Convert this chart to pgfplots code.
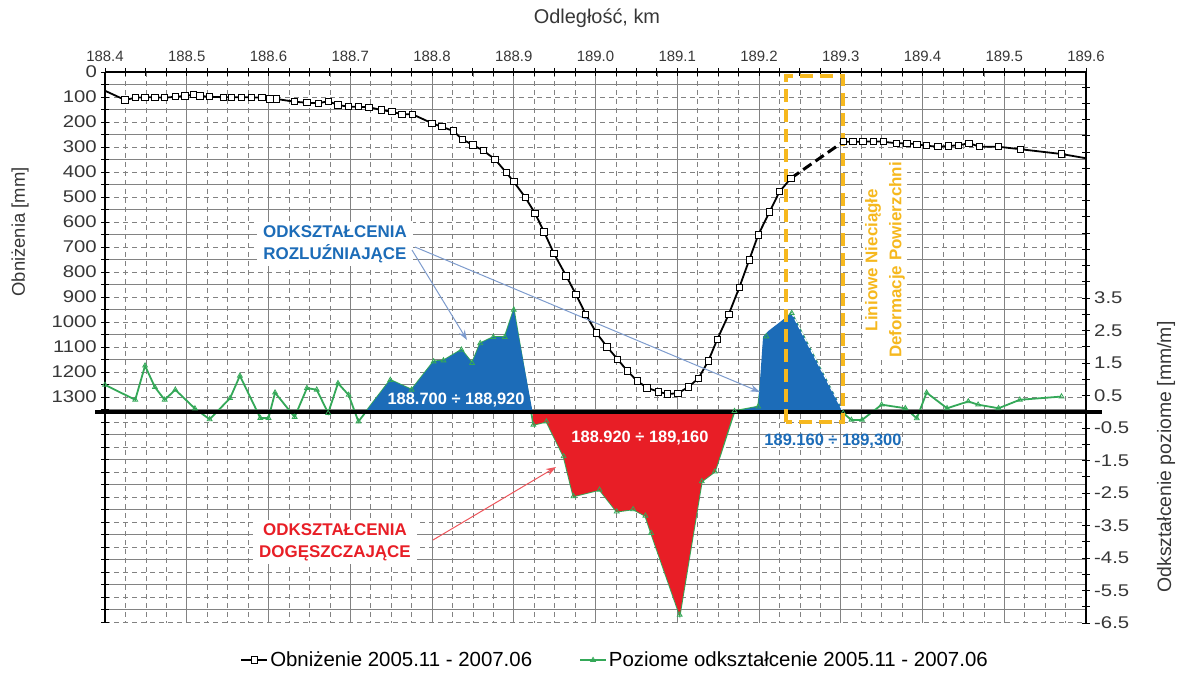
\documentclass[border=0pt]{standalone}
\usepackage{pgfplots}
\pgfplotsset{compat=1.18}
\usepackage{pgfplotstable}
\usepackage{fontspec}
\setmainfont{Liberation Sans}
\usetikzlibrary{arrows.meta}

\definecolor{cblue}{RGB}{28,108,184}
\definecolor{cred}{RGB}{232,30,38}
\definecolor{cgreen}{RGB}{52,168,88}
\definecolor{cyellow}{RGB}{246,184,30}
\definecolor{carrow}{RGB}{125,155,205}
\definecolor{ctick}{RGB}{55,55,55}
\definecolor{cgrid}{RGB}{130,130,130}

% Obnizenie [mm], part 1 (solid)
\pgfplotstableread{
x y
188.4245 112
188.437 103
188.449 101
188.461 101
188.473 103
188.486 99
188.498 96
188.508 91
188.516 96
188.528 99
188.545 101
188.555 101
188.567 101
188.579 101
188.592 103
188.602 108
188.610 108
188.632 119
188.647 123
188.661 125
188.673 117
188.685 132
188.698 139
188.710 139
188.723 141
188.738 152
188.751 159
188.763 169
188.776 169
188.800 205
188.812 219
188.826 236
188.837 269
188.850 292
188.863 315
188.877 349
188.891 403
188.900 439
188.914 501
188.926 565
188.937 639
188.949 725
188.964 815
188.976 889
188.988 969
189.001 1043
189.014 1099
189.027 1149
189.039 1196
189.051 1236
189.063 1263
189.077 1279
189.088 1288
189.101 1285
189.114 1259
189.126 1225
189.138 1156
189.149 1069
189.163 969
189.176 861
189.188 752
189.199 652
189.213 559
189.225 479
189.239 425
}\subA
% part 2 (dashed)
\pgfplotstableread{
x y
189.239 425
189.303 279
}\subB
% part 3 (solid)
\pgfplotstableread{
x y
189.303 279
189.315 279
189.327 279
189.340 277
189.352 279
189.368 285
189.381 285
189.393 289
189.405 295
189.419 299
189.432 296
189.444 293
189.457 285
189.470 299
189.493 299
189.520 309
189.570 328
}\subC
% Poziome odksztalcenie [mm/m]
\pgfplotstableread{
x y
188.400 0.83
188.437 0.37
188.449 1.42
188.461 0.76
188.473 0.37
188.486 0.68
188.510 0.10
188.528 -0.23
188.553 0.42
188.565 1.11
188.590 -0.19
188.600 -0.19
188.608 0.59
188.632 -0.16
188.647 0.73
188.659 0.68
188.673 -0.04
188.685 0.88
188.698 0.52
188.710 -0.30
188.749 0.98
188.775 0.68
188.802 1.55
188.814 1.58
188.836 1.91
188.849 1.50
188.859 2.11
188.875 2.30
188.889 2.30
188.900 3.14
188.924 -0.40
188.940 -0.30
188.961 -1.37
188.973 -2.60
189.005 -2.40
189.026 -3.07
189.046 -3.00
189.061 -3.20
189.068 -3.73
189.103 -6.25
189.130 -2.14
189.146 -1.84
189.170 0.02
189.199 0.16
189.209 2.32
189.240 3.04
189.303 -0.04
189.313 -0.25
189.326 -0.25
189.350 0.22
189.379 0.11
189.393 -0.20
189.405 0.59
189.430 0.11
189.456 0.32
189.468 0.22
189.493 0.11
189.519 0.37
189.570 0.47
}\strain
\pgfplotstableread{
x y
188.719 0
188.749 0.98
188.775 0.68
188.802 1.55
188.814 1.58
188.836 1.91
188.849 1.50
188.859 2.11
188.875 2.30
188.889 2.30
188.900 3.14
188.923 0
}\blueA
\pgfplotstableread{
x y
188.923 0
188.924 -0.40
188.940 -0.30
188.961 -1.37
188.973 -2.60
189.005 -2.40
189.026 -3.07
189.046 -3.00
189.061 -3.20
189.068 -3.73
189.103 -6.25
189.130 -2.14
189.146 -1.84
189.169 0
}\redA
\pgfplotstableread{
x y
189.169 0
189.199 0.16
189.205 2.32
189.212 2.50
189.240 3.04
189.303 0
}\blueB

\pgfplotsset{
  common/.style={
    at={(105bp,54bp)}, anchor=south west,
    width=981bp, height=551bp, scale only axis,
    xmin=188.4, xmax=189.6,
    axis line style={black, line width=1.1bp, -},
    tick align=center, major tick length=8bp, minor tick length=8bp,
    tick style={black, line width=0.8bp},
  }
}

\begin{document}
\begin{tikzpicture}
\useasboundingbox (0,0) rectangle (1185bp,677bp);

% ---- horizontal grid (left scale) ----
\begin{axis}[common,
  ymin=0, ymax=2204, y dir=reverse,
  axis line style={draw=none}, tick style={draw=none},
  xtick=\empty,
  ytick={0,100,...,2200},
  minor ytick={50,150,...,2150},
  yticklabel={\phantom{0}},
  ymajorgrids, yminorgrids,
  major grid style={cgrid, line width=0.6bp, dash pattern=on 5bp off 4bp},
  minor grid style={solid, cgrid, line width=0.7bp},
]
\end{axis}

% ---- left axis, top axis, vertical grid ----
\begin{axis}[common,
  ymin=0, ymax=2204, y dir=reverse,
  axis x line*=top, axis y line*=left,
  xtick={188.4,188.5,...,189.6},
  xticklabels={188.4,188.5,188.6,188.7,188.8,188.9,189.0,189.1,189.2,189.3,189.4,189.5,189.6},
  minor xtick={188.425,188.45,188.475,188.525,188.55,188.575,188.625,188.65,188.675,188.725,188.75,188.775,188.825,188.85,188.875,188.925,188.95,188.975,189.025,189.05,189.075,189.125,189.15,189.175,189.225,189.25,189.275,189.325,189.35,189.375,189.425,189.45,189.475,189.525,189.55,189.575},
  xmajorgrids, xminorgrids,
  major grid style={solid, cgrid, line width=0.7bp},
  minor grid style={cgrid, line width=0.6bp, dash pattern=on 5bp off 4bp},
  ytick={0,100,...,2200},
  yticklabels={0,100,200,300,400,500,600,700,800,900,1000,1100,1200,1300,,,,,,,,,},
  minor ytick={50,150,...,2150},
  xticklabel style={font=\fontsize{15}{18}\selectfont, text=ctick, yshift=3bp},
  yticklabel style={font=\fontsize{17}{20}\selectfont, text=ctick, xscale=1.2},
]
\end{axis}

% ---- right axis: horizontal strain ----
\begin{axis}[common,
  ymin=-6.5, ymax=10.46,
  axis x line=none, axis y line*=right,
  ytick={-6.5,-6,...,10},
  yticklabels={-6.5,,-5.5,,-4.5,,-3.5,,-2.5,,-1.5,,-0.5,,0.5,,1.5,,2.5,,3.5,,,,,,,,,,,,,},
  yticklabel style={font=\fontsize{17}{20}\selectfont, text=ctick, xscale=1.2},
  clip=false,
]
\addplot[cgreen, line width=1.8bp, mark=triangle, mark size=2.8bp, mark options={solid, line width=0.8bp}] table {\strain};
\addplot[fill=cblue, draw=none] table {\blueA} -- cycle;
\addplot[fill=cred, draw=none] table {\redA} -- cycle;
\addplot[fill=cblue, draw=none] table {\blueB} -- cycle;
\addplot[white, line width=1.2bp, dash pattern=on 4bp off 3bp] coordinates {(189.240,3.04) (189.303,0)};
\addplot[black, line width=3.5bp] coordinates {(188.388,0) (189.62,0)};
\node[text=white, font=\bfseries\fontsize{16.5}{20}\selectfont] at (axis cs:188.8294,0.37) {188.700 ÷ 188,920};
\node[text=white, font=\bfseries\fontsize{16.5}{20}\selectfont] at (axis cs:189.0544,-0.80) {188.920 ÷ 189,160};
\node[text=cblue, font=\bfseries\fontsize{16.5}{20}\selectfont] at (axis cs:189.2905,-0.90) {189.160 ÷ 189,300};
\end{axis}

% ---- subsidence curve and annotations ----
\begin{axis}[common,
  ymin=0, ymax=2204, y dir=reverse,
  hide axis, clip=false,
  legend style={at={(0.52,-0.045)}, anchor=north, draw=none, fill=none,
    legend columns=2, font=\fontsize{20.5}{24}\selectfont,
    /tikz/every even column/.append style={column sep=45bp}},
  legend image code/.code={\draw[mark repeat=2, mark phase=2, #1] plot coordinates {(0bp,0bp) (13bp,0bp) (26bp,0bp)};},
]
\addplot[black, line width=1.8bp, mark=square*, mark size=3.2bp, mark options={fill=white, solid, line width=0.9bp}] table {\subA};
\addlegendentry{Obniżenie 2005.11 - 2007.06}
\addplot[black, line width=3bp, dash pattern=on 10bp off 5bp, forget plot] table {\subB};
\addplot[black, line width=1.8bp, mark=square*, mark size=3.2bp, mark options={fill=white, solid, line width=0.9bp}, forget plot] table {\subC};
\addplot[black, line width=1.8bp, forget plot] coordinates {(188.400,75) (188.4245,112)};
\addplot[black, line width=1.8bp, forget plot] coordinates {(189.570,328) (189.600,345)};
\addlegendimage{cgreen, line width=1.8bp, mark=triangle, mark size=2.8bp, mark options={solid, line width=0.8bp}}
\addlegendentry{Poziome odkształcenie 2005.11 - 2007.06}

% yellow dashed frame
\draw[cyellow, line width=3.5bp, dash pattern=on 13bp off 7bp]
  (axis cs:189.233,1399) -- (axis cs:189.233,16) -- (axis cs:189.303,16) -- (axis cs:189.303,1399) -- cycle;
\node[rotate=90, align=center, text=cyellow, fill=white, inner sep=2bp,
  font=\bfseries\fontsize{17}{24}\selectfont] at (axis cs:189.3541,752) {Liniowe Nieciągłe\\Deformacje Powierzchni};

% blue annotation
\node[fill=white, inner xsep=6bp, inner ysep=3bp, align=center, text=cblue,
  font=\bfseries\fontsize{17}{22}\selectfont] at (axis cs:188.6813,688) {ODKSZTAŁCENIA\\ROZLUŹNIAJĄCE};
\draw[carrow, line width=1bp, -{Stealth[length=10bp, width=7bp]}] (axis cs:188.7755,712) -- (axis cs:188.8428,1072);
\draw[carrow, line width=1bp, -{Stealth[length=10bp, width=7bp]}] (axis cs:188.7792,700) -- (axis cs:189.2012,1280);

% red annotation
\node[fill=white, inner xsep=6bp, inner ysep=3bp, align=center, text=cred,
  font=\bfseries\fontsize{17}{22}\selectfont] at (axis cs:188.6813,1880) {ODKSZTAŁCENIA\\DOGĘSZCZAJĄCE};
\draw[cred!75, line width=1bp, -{Stealth[length=10bp, width=7bp]}] (axis cs:188.8012,1872) -- (axis cs:188.9517,1580);
\end{axis}

% axis titles
\node[font=\fontsize{20}{24}\selectfont, text=ctick] at (597bp,659bp) {Odległość, km};
\node[rotate=90, font=\fontsize{18.5}{22}\selectfont, text=ctick] at (20bp,445bp) {Obniżenia [mm]};
\node[rotate=90, font=\fontsize{19.5}{22}\selectfont, text=ctick] at (1166bp,220bp) {Odkształcenie poziome [mm/m]};
\end{tikzpicture}
\end{document}
